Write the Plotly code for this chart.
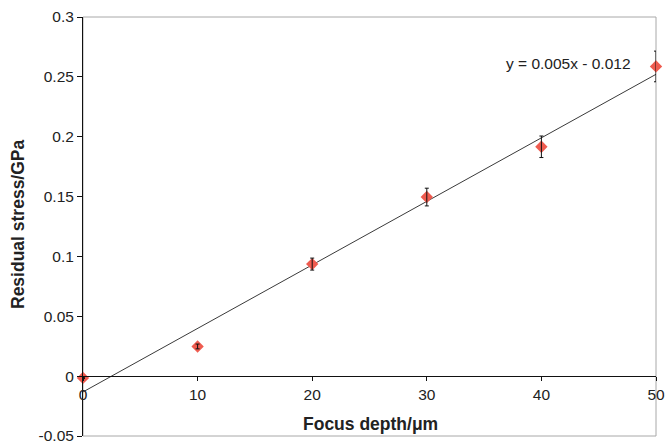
import numpy as np
import plotly.graph_objects as go

depth = [0, 10, 20, 30, 40, 50]
stress = [-0.0015, 0.0248, 0.0936, 0.1496, 0.1916, 0.2587]
stress_err = [0.0005, 0.002, 0.005, 0.0074, 0.009, 0.0128]
y_tickvals = [-0.05, 0, 0.05, 0.1, 0.15, 0.2, 0.25, 0.3]
y_ticktext = ["-0.05", "0", "0.05", "0.1", "0.15", "0.2", "0.25", "0.3"]
x_tickvals = [0, 10, 20, 30, 40, 50]
equation_text = "y = 0.005x - 0.012"

slope, intercept = np.polyfit(depth, stress, 1)
fit_x = [0, 50]
fit_y = [slope * v + intercept for v in fit_x]

FONT = "Liberation Sans, Arial, sans-serif"

fig = go.Figure()
fig.add_trace(go.Scatter(
    x=fit_x, y=fit_y, mode="lines",
    line=dict(color="#3a3a3a", width=1), showlegend=False, hoverinfo="skip",
))
fig.add_trace(go.Scatter(
    x=depth, y=stress, mode="markers",
    marker=dict(symbol="diamond", size=9.5, color="#ef5b4f", line=dict(width=0)),
    cliponaxis=False, showlegend=False,
))
# error bars drawn on top of the markers
fig.add_trace(go.Scatter(
    x=depth, y=stress, mode="markers",
    marker=dict(size=1, opacity=0),
    error_y=dict(type="data", array=stress_err, visible=True, color="#111111", thickness=1, width=2),
    cliponaxis=False, showlegend=False, hoverinfo="skip",
))

ymin, ymax = -0.05, 0.3
fig.update_layout(
    width=665, height=442,
    margin=dict(l=83, r=9, t=17, b=6, autoexpand=False),
    paper_bgcolor="white", plot_bgcolor="white",
    font=dict(family=FONT, size=15.5, color="#222222"),
    xaxis=dict(
        range=[0, 50], tickvals=x_tickvals, showgrid=False, zeroline=False,
        showline=True, linecolor="#111111", linewidth=1,
        ticks="outside", ticklen=4, tickcolor="#111111",
        anchor="free", position=(0 - ymin) / (ymax - ymin),
        ticklabeloverflow="allow", automargin=False,
        tickfont=dict(size=15.5, family=FONT, color="#222222"),
    ),
    yaxis=dict(
        range=[ymin, ymax], tickvals=y_tickvals, ticktext=y_ticktext,
        showgrid=False, zeroline=False,
        showline=True, linecolor="#111111", linewidth=1,
        ticks="outside", ticklen=5, tickcolor="#111111",
        ticklabeloverflow="allow", automargin=False,
        tickfont=dict(size=15.5, family=FONT, color="#222222"),
    ),
    shapes=[dict(type="rect", xref="paper", yref="paper", x0=0, x1=1, y0=0, y1=1,
                 line=dict(color="#a8a8a8", width=1), layer="below")],
    annotations=[
        dict(text="<b>Focus depth/μm</b>", xref="paper", yref="paper",
             x=(370 - 83) / (656 - 83), y=(436 - 424) / (436 - 17),
             showarrow=False, xanchor="center", yanchor="middle",
             font=dict(size=17.5, family=FONT, color="#222222")),
        dict(text="<b>Residual stress/GPa</b>", xref="paper", yref="paper",
             x=-(83 - 18) / (656 - 83), y=(436 - 224) / (436 - 17),
             textangle=-90, showarrow=False, xanchor="center", yanchor="middle",
             font=dict(size=17.5, family=FONT, color="#222222")),
        dict(text=equation_text, xref="x", yref="y", x=42.4, y=0.2615,
             showarrow=False, xanchor="center", yanchor="middle",
             font=dict(size=15.5, family=FONT, color="#222222")),
    ],
)

fig.write_html(
    "out.html",
    config={"displayModeBar": False},
    post_script="document.body.style.margin='0';document.body.style.padding='0';document.body.style.overflow='hidden';",
)
